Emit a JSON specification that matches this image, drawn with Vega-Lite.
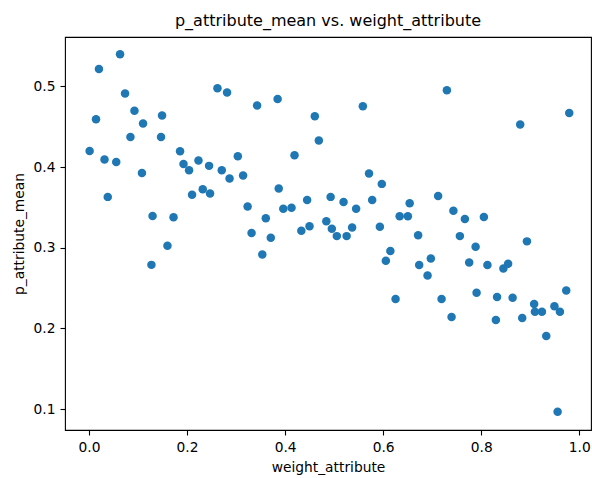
{
  "$schema": "https://vega.github.io/schema/vega-lite/v6.json",
  "width": 526,
  "height": 393,
  "autosize": {"type": "none"},
  "padding": {"left": 65, "top": 37, "right": 1, "bottom": 48},
  "background": "white",
  "title": {"text": "p_attribute_mean vs. weight_attribute", "font": "DejaVu Sans", "fontSize": 16, "fontWeight": "normal", "color": "black", "offset": 8},
  "config": {
    "view": {"stroke": "black", "strokeWidth": 1.1},
    "axis": {"grid": false, "domain": false, "tickColor": "black", "tickWidth": 1.1, "tickSize": 5, "labelFont": "DejaVu Sans", "labelFontSize": 13.8, "labelColor": "black", "labelPadding": 5, "titleFont": "DejaVu Sans", "titleFontSize": 13.8, "titleFontWeight": "normal", "titleColor": "black"}
  },
  "data": {"values": [
    {"weight_attribute": 0.0633, "p_attribute_mean": 0.5396},
    {"weight_attribute": 0.0202, "p_attribute_mean": 0.5213},
    {"weight_attribute": 0.0735, "p_attribute_mean": 0.491},
    {"weight_attribute": 0.262, "p_attribute_mean": 0.4975},
    {"weight_attribute": 0.2816, "p_attribute_mean": 0.4922},
    {"weight_attribute": 0.0143, "p_attribute_mean": 0.4592},
    {"weight_attribute": 0.0927, "p_attribute_mean": 0.4697},
    {"weight_attribute": 0.1102, "p_attribute_mean": 0.4538},
    {"weight_attribute": 0.149, "p_attribute_mean": 0.4637},
    {"weight_attribute": 0.0845, "p_attribute_mean": 0.4371},
    {"weight_attribute": 0.1469, "p_attribute_mean": 0.4373},
    {"weight_attribute": 0.0012, "p_attribute_mean": 0.4198},
    {"weight_attribute": 0.0316, "p_attribute_mean": 0.4093},
    {"weight_attribute": 0.0555, "p_attribute_mean": 0.4063},
    {"weight_attribute": 0.1857, "p_attribute_mean": 0.4196},
    {"weight_attribute": 0.1927, "p_attribute_mean": 0.4038},
    {"weight_attribute": 0.2041, "p_attribute_mean": 0.396},
    {"weight_attribute": 0.2233, "p_attribute_mean": 0.408},
    {"weight_attribute": 0.2449, "p_attribute_mean": 0.4014},
    {"weight_attribute": 0.3035, "p_attribute_mean": 0.4134},
    {"weight_attribute": 0.2708, "p_attribute_mean": 0.396},
    {"weight_attribute": 0.2867, "p_attribute_mean": 0.3858},
    {"weight_attribute": 0.3143, "p_attribute_mean": 0.3896},
    {"weight_attribute": 0.108, "p_attribute_mean": 0.3926},
    {"weight_attribute": 0.0382, "p_attribute_mean": 0.363},
    {"weight_attribute": 0.2102, "p_attribute_mean": 0.3655},
    {"weight_attribute": 0.232, "p_attribute_mean": 0.3725},
    {"weight_attribute": 0.2469, "p_attribute_mean": 0.3672},
    {"weight_attribute": 0.1296, "p_attribute_mean": 0.3394},
    {"weight_attribute": 0.1724, "p_attribute_mean": 0.3379},
    {"weight_attribute": 0.3235, "p_attribute_mean": 0.3512},
    {"weight_attribute": 0.16, "p_attribute_mean": 0.3024},
    {"weight_attribute": 0.1273, "p_attribute_mean": 0.2788},
    {"weight_attribute": 0.3429, "p_attribute_mean": 0.4762},
    {"weight_attribute": 0.3847, "p_attribute_mean": 0.4843},
    {"weight_attribute": 0.4606, "p_attribute_mean": 0.4629},
    {"weight_attribute": 0.5586, "p_attribute_mean": 0.4752},
    {"weight_attribute": 0.4688, "p_attribute_mean": 0.4328},
    {"weight_attribute": 0.4192, "p_attribute_mean": 0.4146},
    {"weight_attribute": 0.387, "p_attribute_mean": 0.3735},
    {"weight_attribute": 0.5712, "p_attribute_mean": 0.392},
    {"weight_attribute": 0.5973, "p_attribute_mean": 0.3791},
    {"weight_attribute": 0.4449, "p_attribute_mean": 0.3592},
    {"weight_attribute": 0.4929, "p_attribute_mean": 0.363},
    {"weight_attribute": 0.5192, "p_attribute_mean": 0.3567},
    {"weight_attribute": 0.5449, "p_attribute_mean": 0.3484},
    {"weight_attribute": 0.5776, "p_attribute_mean": 0.3592},
    {"weight_attribute": 0.6541, "p_attribute_mean": 0.355},
    {"weight_attribute": 0.3963, "p_attribute_mean": 0.3484},
    {"weight_attribute": 0.4131, "p_attribute_mean": 0.3494},
    {"weight_attribute": 0.3606, "p_attribute_mean": 0.3366},
    {"weight_attribute": 0.6337, "p_attribute_mean": 0.3391},
    {"weight_attribute": 0.6504, "p_attribute_mean": 0.3391},
    {"weight_attribute": 0.3316, "p_attribute_mean": 0.3184},
    {"weight_attribute": 0.3708, "p_attribute_mean": 0.3125},
    {"weight_attribute": 0.3535, "p_attribute_mean": 0.2917},
    {"weight_attribute": 0.4331, "p_attribute_mean": 0.3212},
    {"weight_attribute": 0.4498, "p_attribute_mean": 0.3265},
    {"weight_attribute": 0.4841, "p_attribute_mean": 0.3329},
    {"weight_attribute": 0.4953, "p_attribute_mean": 0.3236},
    {"weight_attribute": 0.5055, "p_attribute_mean": 0.3144},
    {"weight_attribute": 0.5255, "p_attribute_mean": 0.3144},
    {"weight_attribute": 0.5367, "p_attribute_mean": 0.3251},
    {"weight_attribute": 0.5933, "p_attribute_mean": 0.3259},
    {"weight_attribute": 0.6147, "p_attribute_mean": 0.296},
    {"weight_attribute": 0.6055, "p_attribute_mean": 0.2838},
    {"weight_attribute": 0.6253, "p_attribute_mean": 0.2366},
    {"weight_attribute": 0.6714, "p_attribute_mean": 0.3156},
    {"weight_attribute": 0.7122, "p_attribute_mean": 0.3642},
    {"weight_attribute": 0.7433, "p_attribute_mean": 0.3459},
    {"weight_attribute": 0.7667, "p_attribute_mean": 0.3356},
    {"weight_attribute": 0.8055, "p_attribute_mean": 0.3381},
    {"weight_attribute": 0.7565, "p_attribute_mean": 0.3144},
    {"weight_attribute": 0.7886, "p_attribute_mean": 0.3011},
    {"weight_attribute": 0.8933, "p_attribute_mean": 0.3079},
    {"weight_attribute": 0.6973, "p_attribute_mean": 0.2868},
    {"weight_attribute": 0.6735, "p_attribute_mean": 0.2785},
    {"weight_attribute": 0.6906, "p_attribute_mean": 0.2655},
    {"weight_attribute": 0.7755, "p_attribute_mean": 0.2816},
    {"weight_attribute": 0.8127, "p_attribute_mean": 0.2787},
    {"weight_attribute": 0.8453, "p_attribute_mean": 0.2744},
    {"weight_attribute": 0.8549, "p_attribute_mean": 0.2801},
    {"weight_attribute": 0.9735, "p_attribute_mean": 0.2472},
    {"weight_attribute": 0.7192, "p_attribute_mean": 0.2366},
    {"weight_attribute": 0.7906, "p_attribute_mean": 0.2444},
    {"weight_attribute": 0.8324, "p_attribute_mean": 0.2389},
    {"weight_attribute": 0.8641, "p_attribute_mean": 0.238},
    {"weight_attribute": 0.7396, "p_attribute_mean": 0.2141},
    {"weight_attribute": 0.83, "p_attribute_mean": 0.2104},
    {"weight_attribute": 0.8837, "p_attribute_mean": 0.2129},
    {"weight_attribute": 0.908, "p_attribute_mean": 0.2304},
    {"weight_attribute": 0.9096, "p_attribute_mean": 0.2207},
    {"weight_attribute": 0.9239, "p_attribute_mean": 0.2207},
    {"weight_attribute": 0.9494, "p_attribute_mean": 0.2277},
    {"weight_attribute": 0.9606, "p_attribute_mean": 0.2207},
    {"weight_attribute": 0.9327, "p_attribute_mean": 0.1906},
    {"weight_attribute": 0.9559, "p_attribute_mean": 0.0969},
    {"weight_attribute": 0.73, "p_attribute_mean": 0.495},
    {"weight_attribute": 0.8796, "p_attribute_mean": 0.4526},
    {"weight_attribute": 0.9796, "p_attribute_mean": 0.467}
  ]},
  "mark": {"type": "point", "filled": true, "shape": "circle", "size": 72, "color": "#1f77b4", "opacity": 1},
  "encoding": {
    "x": {"field": "weight_attribute", "type": "quantitative", "title": "weight_attribute",
      "scale": {"domain": [-0.049, 1.024], "nice": false, "zero": false},
      "axis": {"values": [0, 0.2, 0.4, 0.6, 0.8, 1.0], "format": ".1f", "titlePadding": 7}},
    "y": {"field": "p_attribute_mean", "type": "quantitative", "title": "p_attribute_mean",
      "scale": {"domain": [0.0743, 0.561], "nice": false, "zero": false},
      "axis": {"values": [0.1, 0.2, 0.3, 0.4, 0.5], "format": ".1f", "titlePadding": 7}}
  }
}
